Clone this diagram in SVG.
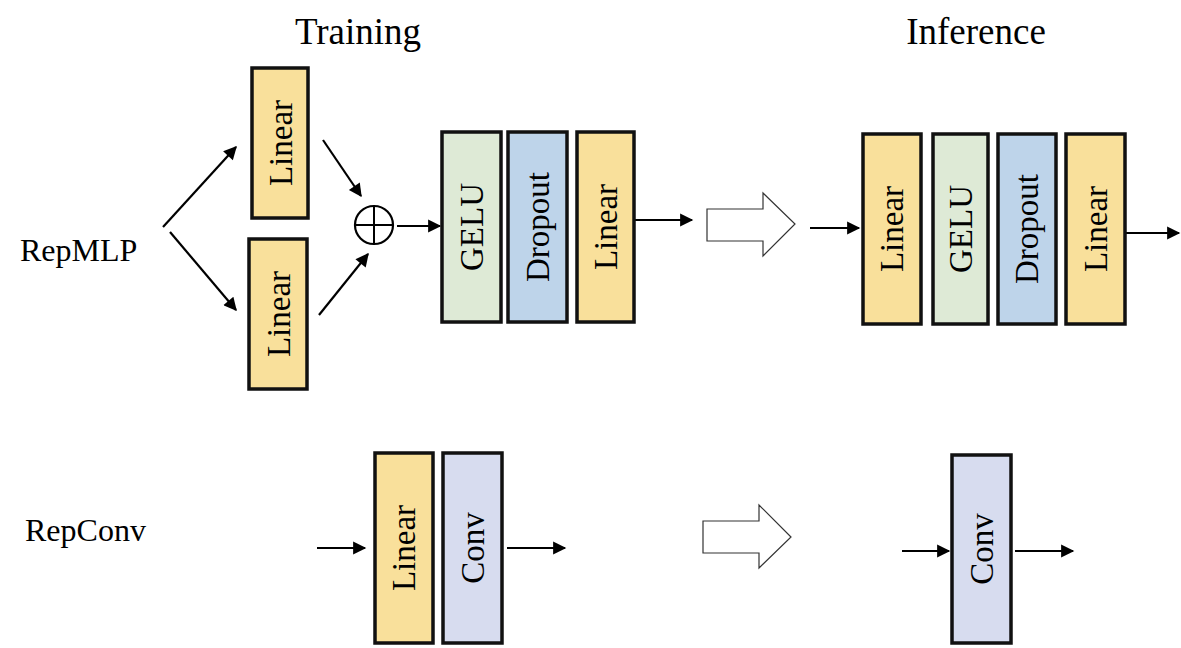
<svg xmlns="http://www.w3.org/2000/svg" width="1181" height="648" viewBox="0 0 1181 648">
<defs>
<style>
.box{stroke:#111;stroke-width:3.5}
.lin{fill:#F9E09B}
.gelu{fill:#DEEAD6}
.drop{fill:#BED4EA}
.conv{fill:#D7DCEF}
.lbl{font-family:"Liberation Serif","Times New Roman",serif;font-size:33px;fill:#000;text-anchor:middle}
.title{font-family:"Liberation Serif","Times New Roman",serif;font-size:37px;fill:#000;text-anchor:middle}
.side{font-family:"Liberation Serif","Times New Roman",serif;font-size:32px;fill:#000}
.ar{stroke:#000;stroke-width:2.2;fill:none;marker-end:url(#ah)}
.hollow{fill:#fff;stroke:#333;stroke-width:1.2}
</style>
<marker id="ah" viewBox="0 0 10 10" refX="9" refY="5" markerWidth="7.5" markerHeight="6" markerUnits="strokeWidth" orient="auto">
<path d="M0,0 L10,5 L0,10 z" fill="#000"/>
</marker>
</defs>
<rect width="1181" height="648" fill="#fff"/>
<text class="title" x="358" y="44">Training</text>
<text class="title" x="976" y="44">Inference</text>
<text class="side" x="20" y="261">RepMLP</text>
<text class="side" x="25" y="541">RepConv</text>

<g id="connectors">
<line class="ar" x1="163" y1="227" x2="236" y2="147"/>
<line class="ar" x1="170" y1="232" x2="236" y2="310"/>
<line class="ar" x1="323" y1="140" x2="361" y2="196"/>
<line class="ar" x1="319" y1="315" x2="368" y2="254"/>
<line class="ar" x1="397" y1="226" x2="440" y2="226"/>
<line class="ar" x1="634" y1="220" x2="692" y2="220"/>
<line class="ar" x1="810" y1="228" x2="859" y2="228"/>
<line class="ar" x1="1125" y1="233" x2="1179" y2="233"/>
<line class="ar" x1="317" y1="548" x2="365" y2="548"/>
<line class="ar" x1="507" y1="548" x2="565" y2="548"/>
<line class="ar" x1="902" y1="551" x2="949" y2="551"/>
<line class="ar" x1="1015" y1="551" x2="1073" y2="551"/>
</g>

<g id="transform1"><path class="hollow" d="M707,209 L763,209 L763,193 L795,224 L763,256 L763,241 L707,241 Z"/></g>
<g id="transform2"><path class="hollow" d="M703,521 L759,521 L759,505 L791,537 L759,568 L759,553 L703,553 Z"/></g>

<g id="add"><circle cx="374" cy="225" r="19" fill="#fff" stroke="#000" stroke-width="2.2"/><path d="M355,225 H393 M374,206 V244" stroke="#000" stroke-width="2"/></g>

<g id="t-linear1"><rect class="box lin" x="252" y="68" width="56" height="150"/><text class="lbl" transform="translate(292,143) rotate(-90)">Linear</text></g>
<g id="t-linear2"><rect class="box lin" x="249" y="239" width="58" height="150"/><text class="lbl" transform="translate(290,314) rotate(-90)">Linear</text></g>
<g id="t-gelu"><rect class="box gelu" x="442" y="132" width="59" height="190"/><text class="lbl" transform="translate(483,227) rotate(-90)">GELU</text></g>
<g id="t-dropout"><rect class="box drop" x="508" y="132" width="59" height="190"/><text class="lbl" transform="translate(549,227) rotate(-90)">Dropout</text></g>
<g id="t-linear3"><rect class="box lin" x="577" y="132" width="57" height="190"/><text class="lbl" transform="translate(617,227) rotate(-90)">Linear</text></g>

<g id="i-linear1"><rect class="box lin" x="863" y="134" width="58" height="190"/><text class="lbl" transform="translate(903,229) rotate(-90)">Linear</text></g>
<g id="i-gelu"><rect class="box gelu" x="933" y="134" width="55" height="190"/><text class="lbl" transform="translate(972,229) rotate(-90)">GELU</text></g>
<g id="i-dropout"><rect class="box drop" x="998" y="134" width="58" height="190"/><text class="lbl" transform="translate(1038,229) rotate(-90)">Dropout</text></g>
<g id="i-linear2"><rect class="box lin" x="1066" y="134" width="59" height="190"/><text class="lbl" transform="translate(1107,229) rotate(-90)">Linear</text></g>

<g id="c-linear"><rect class="box lin" x="375" y="453" width="58" height="190"/><text class="lbl" transform="translate(415,548) rotate(-90)">Linear</text></g>
<g id="c-conv"><rect class="box conv" x="443" y="453" width="59" height="190"/><text class="lbl" transform="translate(484,548) rotate(-90)">Conv</text></g>
<g id="i-conv"><rect class="box conv" x="952" y="455" width="59" height="188"/><text class="lbl" transform="translate(993,549) rotate(-90)">Conv</text></g>
</svg>
